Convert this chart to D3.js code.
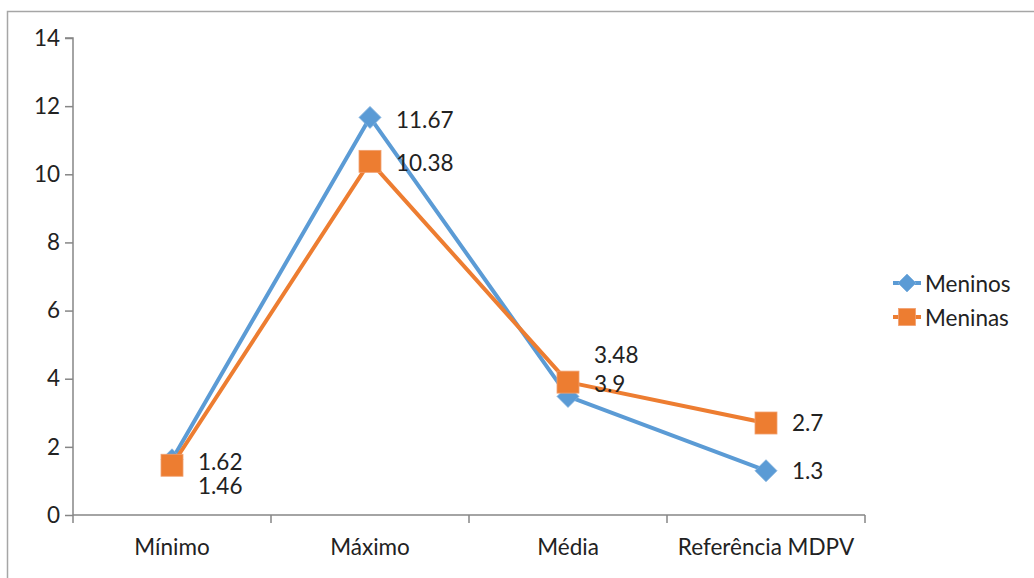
<!DOCTYPE html>
<html><head><meta charset="utf-8">
<script src="https://cdn.jsdelivr.net/npm/d3@7"></script>
<style>
html,body{margin:0;padding:0;background:#fff;}
svg{display:block;}
text{font-family:Lato,"Open Sans",sans-serif;fill:#222;}
</style></head>
<body>
<svg id="c" width="1034" height="578"></svg>
<script>
const categories = ["Mínimo", "Máximo", "Média", "Referência MDPV"];
const meninos = [1.62, 11.67, 3.48, 1.3];
const meninas = [1.46, 10.38, 3.9, 2.7];
const yTicks = [0, 2, 4, 6, 8, 10, 12, 14];
const seriesNames = ["Meninos", "Meninas"];
const seriesColors = ["#5B9BD5", "#ED7D31"];
// label vertical nudges (px), as in the original manual placement
const labelDyMeninos = [2, 2, -42, 0];
const labelDyMeninas = [20, 1, 1, -1];

const FS = 22.5;
const svg = d3.select("#c");
const W = 1034, H = 578;
const m = {left: 73, right: 1034 - 865, top: 38, bottom: 578 - 515};

svg.append("rect").attr("x", 7.5).attr("y", 11.5).attr("width", 1100).attr("height", 700)
  .attr("fill", "#fff").attr("stroke", "#a6a6a6").attr("stroke-width", 1.5);

const x = d3.scaleBand().domain(categories).range([m.left, W - m.right]).padding(0);
const y = d3.scaleLinear().domain([0, 14]).range([H - m.bottom, m.top]);
const cx = c => x(c) + x.bandwidth() / 2;

// Y axis
const yAxis = d3.axisLeft(y).tickValues(yTicks).tickSize(8).tickPadding(5).tickFormat(d3.format("d"));
const gy = svg.append("g").attr("transform", `translate(${m.left},0)`).call(yAxis);
gy.select(".domain").attr("stroke", "#868686").attr("stroke-width", 1.5).attr("d", `M-8,${y(14)}H0V${y(0)}`);
gy.selectAll(".tick line").attr("stroke", "#868686").attr("stroke-width", 1.5);
gy.selectAll(".tick text").attr("font-size", FS).attr("font-family", "Lato").attr("fill", "#222");

// X axis
const xAxis = d3.axisBottom(x).tickSize(0).tickPadding(24);
const gx = svg.append("g").attr("transform", `translate(0,${y(0)})`).call(xAxis);
gx.select(".domain").attr("stroke", "#868686").attr("stroke-width", 1.5).attr("d", `M${m.left},0H${W - m.right}`);
gx.selectAll(".tick text").attr("font-size", FS).attr("font-family", "Lato").attr("fill", "#222");
// category boundary ticks
const bounds = categories.map(c => x(c)).concat([x(categories[categories.length - 1]) + x.bandwidth()]);
gx.selectAll("line.bt").data(bounds).enter().append("line").attr("class", "bt")
  .attr("x1", d => d).attr("x2", d => d).attr("y1", 0).attr("y2", 8)
  .attr("stroke", "#868686").attr("stroke-width", 1.5);

const line = d3.line().x((d, i) => cx(categories[i])).y(d => y(d));

function diamond(g, px, py, r, color) {
  g.append("path").attr("d", `M${px},${py - r}L${px + r},${py}L${px},${py + r}L${px - r},${py}Z`)
    .attr("fill", color).attr("stroke", "#7fb0dd").attr("stroke-width", 0.8);
}
function square(g, px, py, s, color) {
  g.append("rect").attr("x", px - s / 2).attr("y", py - s / 2).attr("width", s).attr("height", s)
    .attr("fill", color).attr("stroke", "#f1a070").attr("stroke-width", 0.8);
}

const gA = svg.append("g");
gA.append("path").datum(meninos).attr("d", line).attr("fill", "none")
  .attr("stroke", seriesColors[0]).attr("stroke-width", 4).attr("stroke-linejoin", "round");
meninos.forEach((v, i) => diamond(gA, cx(categories[i]), y(v), 11, seriesColors[0]));

const gB = svg.append("g");
gB.append("path").datum(meninas).attr("d", line).attr("fill", "none")
  .attr("stroke", seriesColors[1]).attr("stroke-width", 4).attr("stroke-linejoin", "round");
meninas.forEach((v, i) => square(gB, cx(categories[i]), y(v), 22, seriesColors[1]));

// data labels
const gl = svg.append("g");
function labels(vals, dys) {
  vals.forEach((v, i) => {
    gl.append("text").attr("x", cx(categories[i]) + 26).attr("y", y(v) + dys[i])
      .attr("dominant-baseline", "central").attr("font-size", FS).text(String(v));
  });
}
labels(meninos, labelDyMeninos);
labels(meninas, labelDyMeninas);

// legend
const lg = svg.append("g").attr("transform", "translate(893,283)");
seriesNames.forEach((n, i) => {
  const g = lg.append("g").attr("transform", `translate(0,${i * 34})`);
  g.append("line").attr("x1", 0).attr("x2", 28).attr("y1", 0).attr("y2", 0)
    .attr("stroke", seriesColors[i]).attr("stroke-width", 4);
  if (i === 0) diamond(g, 14, 0, 9, seriesColors[0]);
  else square(g, 14, 0, 17, seriesColors[1]);
  g.append("text").attr("x", 32).attr("y", 0).attr("dominant-baseline", "central")
    .attr("font-size", FS).text(n);
});
</script>
</body></html>
